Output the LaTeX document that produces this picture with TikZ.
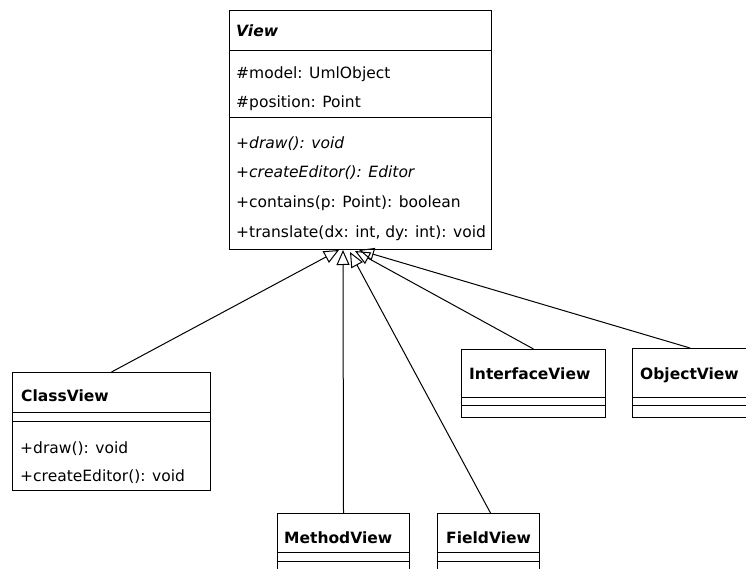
\documentclass[tikz,border=0pt]{standalone}
\usepackage{fontspec}
\setmainfont{DejaVu Sans}
\usetikzlibrary{arrows.meta}
\tikzset{
  x=1pt,y=-1pt,
  classbox/.style={draw=black,line width=1pt,inner sep=0pt,anchor=north west,fill=white},
  sep/.style={draw=black,line width=1pt},
  txt/.style={anchor=base west,inner sep=0pt,font=\fontsize{15.5}{18}\selectfont},
  ttl/.style={txt,font=\fontsize{15.5}{18}\selectfont\bfseries},
  inh/.style={draw=black,line width=1pt,-{Triangle[open,length=15pt,width=13pt,line width=1pt]}}
}
\begin{document}
\begin{tikzpicture}
\clip (0,0) rectangle (746,569);
\fill[white] (0,0) rectangle (746,569);

% View
\node[classbox,minimum width=262pt,minimum height=239pt] (view) at (229,10) {};
\draw[sep] (view.west |- 0,51) -- (view.east |- 0,51);
\draw[sep] (view.west |- 0,118) -- (view.east |- 0,118);
\node[ttl,font=\fontsize{15.5}{18}\selectfont\bfseries\itshape] (viewt) at (236,37) {View};
\node[txt] (va1) at (236,79) {\#model: UmlObject};
\node[txt] (va2) at (236,108) {\#position: Point};
\node[txt,font=\fontsize{15.5}{18}\selectfont\itshape] (vm1) at (236,149) {+draw(): void};
\node[txt,font=\fontsize{15.5}{18}\selectfont\itshape] (vm2) at (236,178) {+createEditor(): Editor};
\node[txt] (vm3) at (236,208) {+contains(p: Point): boolean};
\node[txt] (vm4) at (236,237) {+translate(dx: int, dy: int): void};

% ClassView
\node[classbox,minimum width=198pt,minimum height=118pt] (classv) at (12,372) {};
\draw[sep] (classv.west |- 0,412) -- (classv.east |- 0,412);
\draw[sep] (classv.west |- 0,421) -- (classv.east |- 0,421);
\node[ttl] (classvt) at (21,401) {ClassView};
\node[txt] (cm1) at (20,453) {+draw(): void};
\node[txt] (cm2) at (20,481) {+createEditor(): void};

% InterfaceView
\node[classbox,minimum width=144pt,minimum height=68pt] (ifv) at (461,349) {};
\draw[sep] (ifv.west |- 0,397) -- (ifv.east |- 0,397);
\draw[sep] (ifv.west |- 0,405) -- (ifv.east |- 0,405);
\node[ttl] (ifvt) at (469,379) {InterfaceView};

% ObjectView
\node[classbox,minimum width=115pt,minimum height=69pt] (objv) at (632,348) {};
\draw[sep] (objv.west |- 0,397) -- (objv.east |- 0,397);
\draw[sep] (objv.west |- 0,405) -- (objv.east |- 0,405);
\node[ttl] (objvt) at (640,379) {ObjectView};

% MethodView
\node[classbox,minimum width=132pt,minimum height=70pt] (methv) at (277,513) {};
\draw[sep] (methv.west |- 0,552) -- (methv.east |- 0,552);
\draw[sep] (methv.west |- 0,561) -- (methv.east |- 0,561);
\node[ttl] (methvt) at (284,543) {MethodView};

% FieldView
\node[classbox,minimum width=102pt,minimum height=70pt] (fieldv) at (437,513) {};
\draw[sep] (fieldv.west |- 0,552) -- (fieldv.east |- 0,552);
\draw[sep] (fieldv.west |- 0,561) -- (fieldv.east |- 0,561);
\node[ttl] (fieldvt) at (446,543) {FieldView};

% arrow tips
\coordinate (t1) at (339,250);
\coordinate (t2) at (343,250);
\coordinate (t3) at (350,252);
\coordinate (t4) at (355,251);
\coordinate (t5) at (359,250);

\draw[inh] (classv.north) -- (t1);
\draw[inh] (methv.north) -- (t2);
\draw[inh] (fieldv.north) ++(2,0) -- (t3);
\draw[inh] (ifv.north) -- (t4);
\draw[inh] (objv.north) -- (t5);
\end{tikzpicture}
\end{document}
